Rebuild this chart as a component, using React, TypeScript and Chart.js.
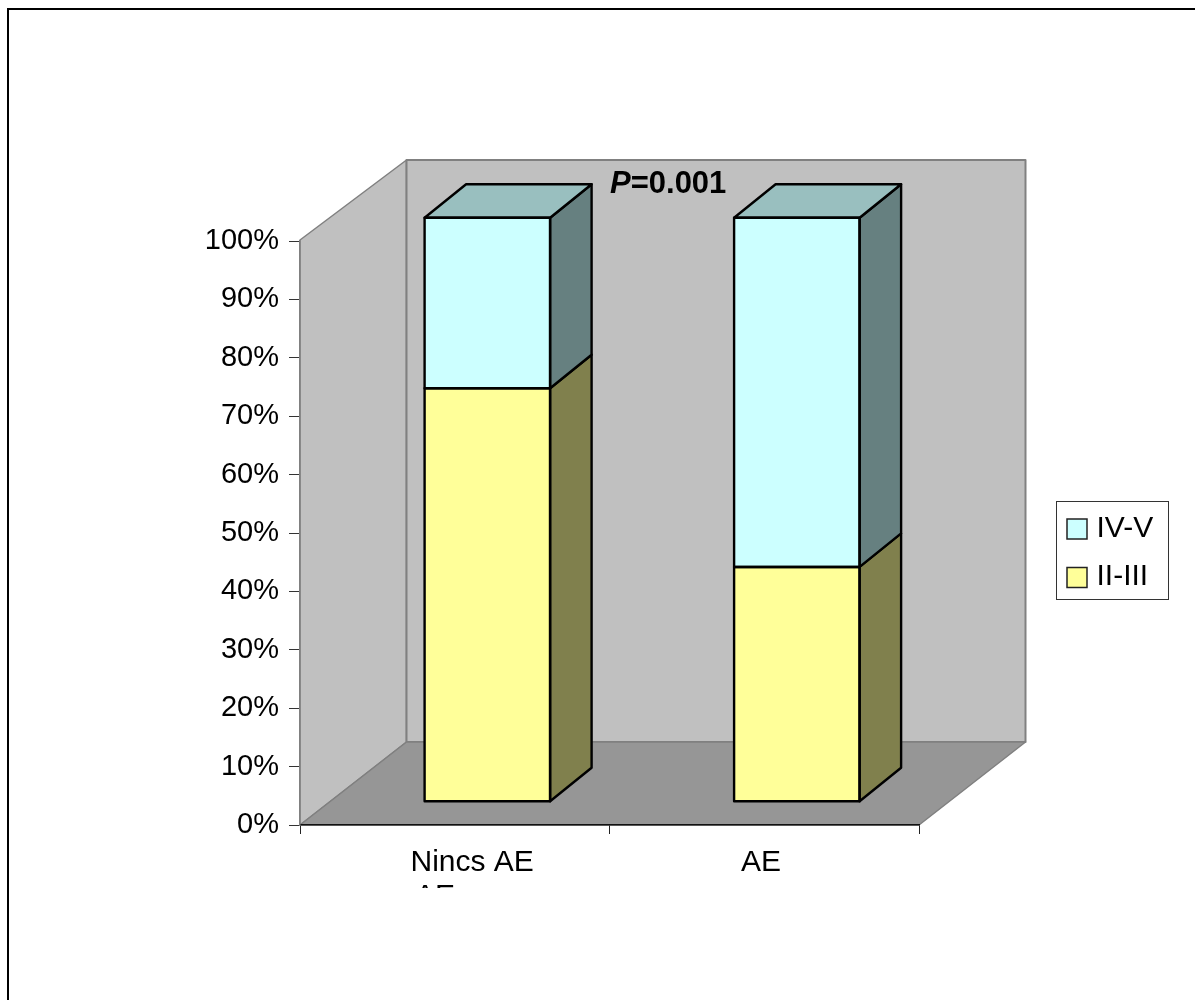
import React, { useEffect, useRef } from "react";
import { Chart, registerables } from "chart.js";

Chart.register(...registerables);

const FONT = '"Liberation Sans", Arial, sans-serif';
const categories = ["Nincs AE", "AE"];
const lowerGrade = [70.8, 40.2];
const upperGrade = [29.2, 59.8];
const tickValues = [0, 10, 20, 30, 40, 50, 60, 70, 80, 90, 100];
const annotationPrefix = "P";
const annotationValue = "=0.001";
const clippedSecondLine = "AE";

const sideShades: Record<string, string> = { "#FFFF99": "#80804D", "#CCFFFF": "#668080" };
const topShade = "#99BFBF";

// Projection offsets of the box: the whole plot recedes by WALL, each bar by BAR.
const WALL = { x: 106.5, floor: -83, top: -81 };
const BAR = { x: 41.5, y: -33.5 };
const BAR_SHIFT = { x: 32.6, y: -23.3 };
const BAR_LINE = 2.4;

function poly(ctx: CanvasRenderingContext2D, pts: number[][], fill: string | null, stroke: string, lw: number) {
  ctx.beginPath();
  pts.forEach((p, i) => (i ? ctx.lineTo(p[0], p[1]) : ctx.moveTo(p[0], p[1])));
  ctx.closePath();
  if (fill) {
    ctx.fillStyle = fill;
    ctx.fill();
  }
  ctx.strokeStyle = stroke;
  ctx.lineWidth = lw;
  ctx.lineJoin = "round";
  ctx.stroke();
}

const scene = {
  id: "scene",
  beforeDraw(chart: any) {
    const { ctx, chartArea: a } = chart;
    ctx.save();
    ctx.fillStyle = "#fff";
    ctx.fillRect(0, 0, chart.width, chart.height);
    ctx.strokeStyle = "#000";
    ctx.lineWidth = 2;
    ctx.beginPath();
    ctx.moveTo(8, chart.height);
    ctx.lineTo(8, 9);
    ctx.lineTo(chart.width, 9);
    ctx.stroke();
    const bx = a.left + WALL.x, by = a.bottom + WALL.floor, tx = a.top + WALL.top, rx = a.right + WALL.x;
    poly(ctx, [[a.left, a.top - 1], [bx, tx], [bx, by], [a.left, a.bottom]], "#C0C0C0", "#808080", 1.5);
    poly(ctx, [[bx, tx], [rx, tx], [rx, by], [bx, by]], "#C0C0C0", "#808080", 2);
    poly(ctx, [[a.left, a.bottom], [bx, by], [rx, by], [a.right, a.bottom]], "#969696", "#808080", 1.5);
    ctx.restore();
  },
  beforeDatasetsDraw(chart: any) {
    const { ctx } = chart;
    ctx.save();
    ctx.fillStyle = "#000";
    ctx.textBaseline = "alphabetic";
    ctx.textAlign = "left";
    ctx.font = `italic bold 31px ${FONT}`;
    const w = ctx.measureText(annotationPrefix).width;
    ctx.fillText(annotationPrefix, 610, 193);
    ctx.font = `bold 31px ${FONT}`;
    ctx.fillText(annotationValue, 610 + w, 193);
    ctx.restore();
    ctx.save();
    ctx.translate(BAR_SHIFT.x, BAR_SHIFT.y);
  },
  afterDatasetsDraw(chart: any) {
    const { ctx } = chart;
    const last = chart.data.datasets.length - 1;
    chart.data.datasets.forEach((ds: any, i: number) => {
      chart.getDatasetMeta(i).data.forEach((el: any) => {
        const r = el.x + el.width / 2;
        const l = el.x - el.width / 2;
        poly(ctx, [[r, el.base], [r + BAR.x, el.base + BAR.y], [r + BAR.x, el.y + BAR.y], [r, el.y]], sideShades[ds.backgroundColor], "#000", BAR_LINE);
        if (i === last) {
          poly(ctx, [[l, el.y], [l + BAR.x, el.y + BAR.y], [r + BAR.x, el.y + BAR.y], [r, el.y]], topShade, "#000", BAR_LINE);
        }
        poly(ctx, [[l, el.base], [r, el.base], [r, el.y], [l, el.y]], null, "#000", BAR_LINE);
      });
    });
    ctx.restore();
  },
  afterDraw(chart: any) {
    const { ctx } = chart;
    ctx.save();
    ctx.fillStyle = "#000";
    ctx.textAlign = "left";
    ctx.textBaseline = "alphabetic";
    ctx.font = `30px ${FONT}`;
    // Category captions sit in a fixed-height slot that cuts off the wrapped line.
    ctx.save();
    ctx.beginPath();
    ctx.rect(300, 840, 640, 48);
    ctx.clip();
    ctx.fillText(categories[0], 410.5, 871);
    ctx.fillText(clippedSecondLine, 415, 904.5);
    ctx.fillText(categories[1], 741, 871);
    ctx.restore();
    // Legend box, top entry first.
    ctx.fillStyle = "#fff";
    ctx.strokeStyle = "#333";
    ctx.lineWidth = 1;
    ctx.fillRect(1056, 501, 112, 98);
    ctx.strokeRect(1056.5, 501.5, 112, 98);
    [...chart.data.datasets].reverse().forEach((ds: any, i: number) => {
      const y = 519 + i * 48.5;
      ctx.fillStyle = ds.backgroundColor;
      ctx.fillRect(1067, y, 20, 20);
      ctx.strokeStyle = "#222";
      ctx.lineWidth = 1.5;
      ctx.strokeRect(1067, y, 20, 20);
      ctx.fillStyle = "#000";
      ctx.fillText(ds.label, 1096.5, 537 + i * 48);
    });
    ctx.restore();
  },
};

export default function App() {
  const ref = useRef<HTMLCanvasElement>(null);
  useEffect(() => {
    const chart = new Chart(ref.current!, {
      type: "bar",
      data: {
        labels: categories,
        datasets: [
          { label: "II-III", data: lowerGrade, backgroundColor: "#FFFF99", borderWidth: 0, clip: false },
          { label: "IV-V", data: upperGrade, backgroundColor: "#CCFFFF", borderWidth: 0, clip: false },
        ] as any,
      },
      options: {
        animation: false,
        responsive: false,
        layout: { padding: { top: 241, right: 276, left: 0, bottom: 0 } },
        barPercentage: 0.4055,
        categoryPercentage: 1,
        plugins: { legend: { display: false }, tooltip: { enabled: false } },
        scales: {
          x: {
            stacked: true,
            afterFit: (s: any) => { s.height = 175; },
            grid: { drawOnChartArea: false, tickLength: 9, tickColor: "#222", tickWidth: 1 },
            border: { color: "#111", width: 1.5 },
            ticks: { display: false },
          },
          y: {
            stacked: true,
            min: 0,
            max: 100,
            afterFit: (s: any) => { s.width = 300; },
            afterBuildTicks: (s: any) => { s.ticks = tickValues.map((value) => ({ value })); },
            grid: { drawOnChartArea: false, tickLength: 11, tickColor: "#333", tickWidth: 1 },
            border: { color: "#808080", width: 1.5 },
            ticks: {
              padding: 10,
              color: "#000",
              font: { family: FONT, size: 29 },
              callback: (v: any) => `${v}%`,
            },
          },
        },
      } as any,
      plugins: [scene as any],
    });
    return () => chart.destroy();
  }, []);
  return (
    <div style={{ position: "absolute", left: 0, top: 0, width: 1195, height: 1000, overflow: "hidden" }}>
      <canvas ref={ref} width={1195} height={1000} style={{ display: "block" }} />
    </div>
  );
}
